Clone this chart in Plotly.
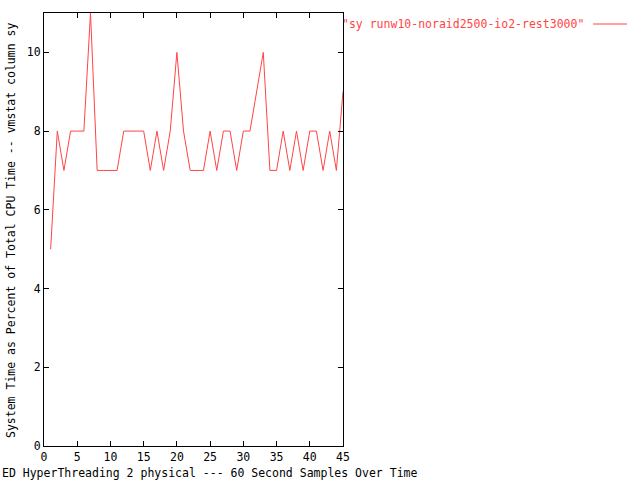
import plotly.graph_objects as go

samples = list(range(1, 46))
sy_values = [5, 8, 7, 8, 8, 8, 11, 7, 7, 7, 7, 8, 8, 8, 8, 7, 8, 7, 8, 10,
             8, 7, 7, 7, 8, 7, 8, 8, 7, 8, 8, 9, 10, 7, 7, 8, 7, 8, 7, 8,
             8, 7, 8, 7, 9]
series_name = '"sy runw10-noraid2500-io2-rest3000"'
x_title = "ED HyperThreading 2 physical --- 60 Second Samples Over Time"
y_title = "System Time as Percent of Total CPU Time -- vmstat column sy"
x_ticks = [0, 5, 10, 15, 20, 25, 30, 35, 40, 45]
y_ticks = [0, 2, 4, 6, 8, 10]

RED = "#ff4545"
FONT = dict(family="DejaVu Sans Mono", size=11.5, color="black")

W, H = 640, 480
L, R, T, B = 44, 343, 13, 446
pw, ph = R - L, B - T

def px(x):
    return (x - L) / pw

def py(y):
    return (B - y) / ph

fig = go.Figure()
fig.add_trace(go.Scatter(x=samples, y=sy_values, mode="lines",
                         line=dict(color=RED, width=1), showlegend=False,
                         hoverinfo="skip"))

axis_common = dict(showline=True, linecolor="black", linewidth=1, mirror="ticks",
                   ticks="inside", ticklen=5, tickcolor="black", showgrid=False,
                   zeroline=False, tickfont=FONT)
fig.update_xaxes(range=[0, 45], tickvals=x_ticks, **axis_common)
fig.update_yaxes(range=[0, 11], tickvals=y_ticks, **axis_common)

fig.add_annotation(text=x_title, xref="paper", yref="paper", x=px(0), y=py(473),
                   xanchor="left", yanchor="middle", showarrow=False, font=FONT)
fig.add_annotation(text=y_title, xref="paper", yref="paper", x=px(11), y=py(231),
                   xanchor="center", yanchor="middle", textangle=-90,
                   showarrow=False, font=FONT)
fig.add_annotation(text=series_name, xref="paper", yref="paper", x=px(586), y=py(24),
                   xanchor="right", yanchor="middle", showarrow=False,
                   font=dict(family="DejaVu Sans Mono", size=11.5, color=RED))
fig.add_shape(type="line", xref="paper", yref="paper", x0=px(593), x1=px(627),
              y0=py(24), y1=py(24), line=dict(color=RED, width=1))

fig.update_layout(width=W, height=H, margin=dict(l=L, r=W - R, t=T, b=H - B),
                  plot_bgcolor="white", paper_bgcolor="white", font=FONT)

fig.write_html("out.html", config={"displayModeBar": False},
               post_script="document.body.style.margin='0';")
